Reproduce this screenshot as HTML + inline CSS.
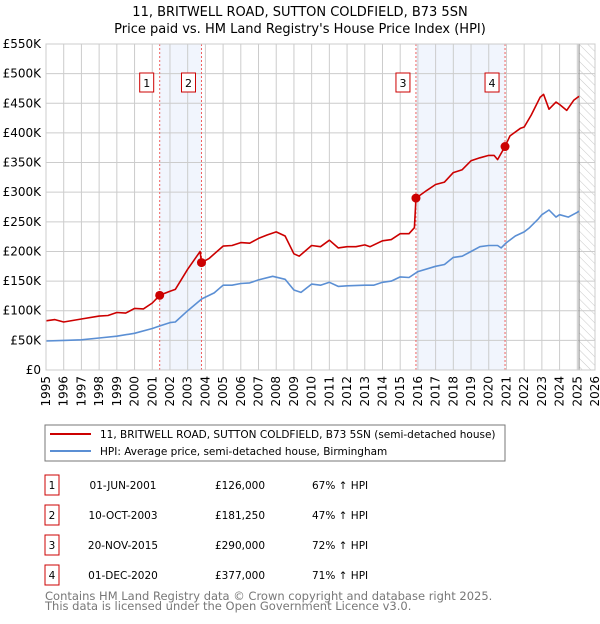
<!DOCTYPE html>
<html><head><meta charset="utf-8"><style>
body{margin:0;background:#fff;font-family:"DejaVu Sans","Liberation Sans",sans-serif;}
svg text{font-family:"DejaVu Sans","Liberation Sans",sans-serif;}
</style></head><body>
<svg id="c" width="600" height="620" xmlns="http://www.w3.org/2000/svg">
<defs><pattern id="hatch" width="6" height="6" patternUnits="userSpaceOnUse" patternTransform="rotate(-45)"><line x1="0" y1="0" x2="0" y2="6" stroke="#bbb" stroke-width="0.8"/></pattern></defs>
<text x="300" y="16" text-anchor="middle" font-size="13">11, BRITWELL ROAD, SUTTON COLDFIELD, B73 5SN</text>
<text x="300" y="33" text-anchor="middle" font-size="13">Price paid vs. HM Land Registry's House Price Index (HPI)</text>
<g id="plot"></g>
<rect x="45" y="425" width="460" height="36" fill="#fff" stroke="#777"/>
<line x1="50" y1="434" x2="91" y2="434" stroke="#cc0000" stroke-width="2"/>
<text x="100" y="438" font-size="10.5">11, BRITWELL ROAD, SUTTON COLDFIELD, B73 5SN (semi-detached house)</text>
<line x1="50" y1="451" x2="91" y2="451" stroke="#5b8fd4" stroke-width="2"/>
<text x="100" y="455" font-size="10.5">HPI: Average price, semi-detached house, Birmingham</text>
<g id="table" font-size="10.5"></g>
<text x="45" y="600" font-size="11.5" fill="#777">Contains HM Land Registry data © Crown copyright and database right 2025.</text>
<text x="45" y="610" font-size="11.5" fill="#777">This data is licensed under the Open Government Licence v3.0.</text>
</svg>
<script>
const yTicks=[0,50,100,150,200,250,300,350,400,450,500,550];
const yTickLabels=["£0","£50K","£100K","£150K","£200K","£250K","£300K","£350K","£400K","£450K","£500K","£550K"];
const years=[1995,1996,1997,1998,1999,2000,2001,2002,2003,2004,2005,2006,2007,2008,2009,2010,2011,2012,2013,2014,2015,2016,2017,2018,2019,2020,2021,2022,2023,2024,2025,2026];
const hpiT=[1995,1996,1997,1998,1999,2000,2001,2001.5,2002,2002.3,2003,2003.8,2004.5,2005,2005.5,2006,2006.5,2007,2007.8,2008.5,2009,2009.4,2010,2010.5,2011,2011.5,2012,2013,2013.5,2014,2014.5,2015,2015.5,2016,2017,2017.5,2018,2018.5,2019,2019.5,2020,2020.5,2020.7,2021,2021.5,2022,2022.3,2022.8,2023,2023.4,2023.8,2024,2024.5,2025,2025.1];
const hpiV=[49,50,51,54,57,62,70,75,80,81,100,120,130,143,143,146,147,152,158,153,135,131,145,143,148,141,142,143,143,148,150,157,156,166,175,178,190,192,200,208,210,210,206,215,226,233,240,255,262,270,258,262,258,266,268];
const priceT=[1995,1995.5,1996,1997,1998,1998.5,1999,1999.5,2000,2000.5,2001,2001.42,2002,2002.3,2003,2003.7,2003.78,2004.2,2005,2005.5,2006,2006.5,2007,2007.5,2008,2008.5,2009,2009.3,2010,2010.5,2011,2011.5,2012,2012.5,2013,2013.3,2014,2014.5,2015,2015.5,2015.8,2015.89,2016.5,2017,2017.5,2018,2018.5,2019,2019.5,2020,2020.3,2020.5,2020.92,2021.2,2021.8,2022,2022.4,2022.9,2023.1,2023.4,2023.8,2024,2024.4,2024.8,2025.1];
const priceV=[83,85,81,86,91,92,97,96,104,103,113,126,133,136,170,200,181,188,209,210,215,214,222,228,233,226,196,192,210,208,219,206,208,208,211,208,218,220,230,230,240,290,303,313,317,333,338,353,358,362,362,355,377,395,408,410,430,460,465,440,452,448,438,455,462];
const saleT=[2001.42,2003.78,2015.89,2020.92];
const saleV=[126,181.25,290,377];
const saleLabels=["1","2","3","4"];
const saleDates=["01-JUN-2001","10-OCT-2003","20-NOV-2015","01-DEC-2020"];
const salePrices=["£126,000","£181,250","£290,000","£377,000"];
const salePct=["67% ↑ HPI","47% ↑ HPI","72% ↑ HPI","71% ↑ HPI"];
const X0=46,X1=595,Y0=370,Y1=44;
const xs=t=>X0+(t-1995)*(X1-X0)/31;
const ys=v=>Y0-v*(Y0-Y1)/550;
const NS="http://www.w3.org/2000/svg";
const g=document.getElementById('plot');
function mk(tag,attrs,parent){const e=document.createElementNS(NS,tag);for(const k in attrs)e.setAttribute(k,attrs[k]);(parent||g).appendChild(e);return e;}
let e;
// shaded spans
for(let i=0;i<4;i+=2){e=mk('rect',{x:xs(saleT[i]),y:Y1,width:xs(saleT[i+1])-xs(saleT[i]),height:Y0-Y1,fill:'#eef3fc',opacity:0.8});

}
// hatch future
e=mk('rect',{x:xs(2025.1),y:Y1,width:X1-xs(2025.1),height:Y0-Y1,fill:'url(#hatch)'});


// grid
years.forEach((y,i)=>{e=mk('line',{x1:xs(y),x2:xs(y),y1:Y1,y2:Y0,stroke:'#ccc','stroke-width':1});


e=mk('text',{x:0,y:0,transform:`translate(${xs(y)+4},${Y0+6}) rotate(-90)`,'text-anchor':'end','font-size':12});
e.textContent=y;

});
yTicks.forEach((v,i)=>{e=mk('line',{x1:X0,x2:X1,y1:ys(v),y2:ys(v),stroke:'#ccc','stroke-width':1});


e=mk('text',{x:X0-5,y:ys(v)+4,'text-anchor':'end','font-size':12});
e.textContent=yTickLabels[i];

});
e=mk('line',{x1:xs(2025.1),x2:xs(2025.1),y1:Y1,y2:Y0,stroke:'#888','stroke-width':1});


// sale vlines & labels
saleT.forEach((t,i)=>{e=mk('line',{x1:xs(t),x2:xs(t),y1:Y1,y2:Y0,stroke:'#f06060','stroke-width':1,'stroke-dasharray':'2,2'});


e=mk('rect',{x:xs(t)-20,y:73,width:14,height:19,fill:'#fff',stroke:'#cc0000'});


e=mk('text',{x:xs(t)-13,y:87,'text-anchor':'middle','font-size':11});
e.textContent=saleLabels[i];

});
function path(T,V,col,name){let d=T.map((t,i)=>(i?'L':'M')+xs(t).toFixed(1)+','+ys(V[i]).toFixed(1)).join('');
e=mk('path',{d:d,fill:'none',stroke:col,'stroke-width':1.6,'stroke-linejoin':'round'});

}
path(hpiT,hpiV,'#5b8fd4','hpi-line');
path(priceT,priceV,'#cc0000','price-line');
saleT.forEach((t,i)=>{e=mk('circle',{cx:xs(t),cy:ys(saleV[i]),r:4.5,fill:'#cc0000'});

});
mk('rect',{x:X0,y:Y1,width:X1-X0,height:Y0-Y1,fill:'none',stroke:'#ccc'});
// table
const tb=document.getElementById('table');
saleLabels.forEach((l,i)=>{const cy=483+i*30;
e=mk('rect',{x:45,y:cy-8,width:14,height:20,fill:'#fff',stroke:'#cc0000'},tb);


e=mk('text',{x:52,y:cy+6,'text-anchor':'middle'},tb);e.textContent=l;


e=mk('text',{x:123,y:cy+6,'text-anchor':'middle'},tb);e.textContent=saleDates[i];


e=mk('text',{x:240,y:cy+6,'text-anchor':'middle'},tb);e.textContent=salePrices[i];


e=mk('text',{x:312,y:cy+6},tb);e.textContent=salePct[i];

});
</script>
</body></html>
